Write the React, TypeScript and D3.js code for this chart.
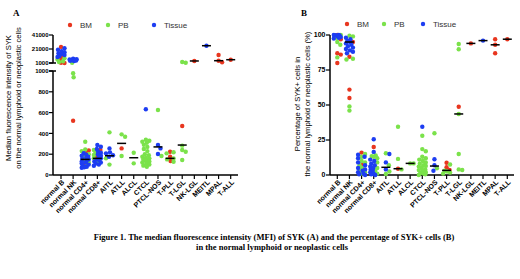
import React from 'react';
import * as d3 from 'd3';

const categories = ['normal B', 'normal NK', 'normal CD4+', 'normal CD8+', 'AITL', 'ATLL', 'ALCL', 'CTCL', 'PTCL-NOS', 'T-PLL', 'T-LGL', 'NK-LGL', 'MEITL', 'MPAL', 'T-ALL'];
const groups = ['BM', 'PB', 'Tissue'];
const groupColors = ['#e8361f', '#7be24b', '#1d3df2'];

// Panel A: MFI of SYK
const mfiBM: number[][] = [
  [24000, 10000, 6300, 1400, 1100], [522], [235, 220, 110, 100], [240, 176], [], [256], [], [], [],
  [224, 176, 135], [471], [3900], [], [12400, 4300, 2000], [5700],
];
const mfiPB: number[][] = [
  [7700, 6000, 3500, 2500], [1400, 978, 940], [320, 245, 230, 200, 180, 140, 120, 110],
  [240, 220, 192, 160, 128], [410, 160, 100], [391, 368, 183], [214, 112],
  [340, 330, 320, 310, 290, 270, 250, 230, 200, 190, 175, 165, 160, 150, 145, 140, 130, 120, 110, 100, 90, 80],
  [625, 183], [219, 208, 160, 150, 128], [2400, 1400, 282, 240, 224, 144], [], [], [], [],
];
const mfiTissue: number[][] = [
  [22000, 20000, 18000, 16500, 15000, 14000, 12500, 11000, 9500],
  [7000, 6500, 6000, 5600, 5300, 5000, 4600, 4200, 3800],
  [210, 195, 185, 175, 165, 155, 150, 140, 130, 120, 110, 100, 90, 80, 75, 70],
  [288, 272, 250, 230, 215, 200, 185, 170, 160, 150, 140, 130, 120, 110, 100, 89],
  [256, 218, 208, 190, 176], [], [], [632], [288, 256, 202], [], [], [], [25700], [], [],
];
const mfiMedian: (number | null)[] = [null, null, 150, 160, 185, 304, 166, null, 270, 160, 288, 3900, 25700, 4300, 5700];
const mfiUpperTicks = [1000, 21000, 41000];
const mfiLowerTicks = [0, 200, 400, 600, 800, 1000];

// Panel B: percentage of SYK+ cells
const pctBM: number[][] = [
  [100, 97, 87, 86, 80], [95, 84.5, 61, 55], [16, 8], [20], [], [4.5], [], [], [],
  [8.8, 5.5, 3.6], [48.8], [94], [], [97, 93, 87], [97],
];
const pctPB: number[][] = [
  [100, 99, 98, 95, 93, 84], [99.5, 99, 83, 82.5, 49, 46], [15, 13, 10, 9, 7, 5, 3, 2, 1],
  [14, 13.5, 13, 12, 9, 5, 3, 1], [15.5, 7, 2.5, 0.7], [34.5, 11.5, 4], [8.3, 8.3],
  [28, 18.5, 17, 13, 12, 11, 10, 9, 8, 7, 6.5, 6, 5, 4, 3.5, 3, 2, 1.5, 1, 0.5, 0],
  [29.8, 4.8], [7.5, 3, 2.5, 1.7, 1], [93.6, 89.8, 43.6, 15, 4, 3.6], [], [], [], [],
];
const pctTissue: number[][] = [
  [100, 100, 99.8, 99.5, 99, 98.5, 98, 97.5],
  [98, 97, 96, 95, 94, 93, 92, 91, 90, 89, 88, 87],
  [14.5, 13, 12, 9, 7, 5, 4, 3, 2, 1, 0.5, 0],
  [25.5, 16.5, 11, 10, 8, 7, 6, 5, 4, 3, 2, 1, 0.5, 0],
  [15, 9, 4], [], [], [34.5], [11.2, 7, 3], [], [], [], [96], [], [],
];
const pctMedian: (number | null)[] = [null, 95, null, null, 5.5, 4.5, 8.3, null, 6.4, 3.3, 43.6, 94, 96, 93, 97];
const pctTicks = [0, 25, 50, 75, 100];

const SANS = '"Liberation Sans", Arial, sans-serif';
const SERIF = '"Liberation Serif", "Times New Roman", serif';
const R = 2.2;

function swarm(ys: number[], r: number, maxW: number): number[] {
  const idx = ys.map((_, i) => i).sort((a, b) => ys[a] - ys[b]);
  const placed: { x: number; y: number }[] = [];
  const out = new Array(ys.length).fill(0);
  const cands: number[] = [0];
  for (let s = 0.5; s <= maxW; s += 0.5) cands.push(s, -s);
  const need = 2 * r * 0.9;
  for (const i of idx) {
    const y = ys[i];
    let best = 0;
    let bestD = -1;
    for (const c of cands) {
      let md = Infinity;
      for (const p of placed) {
        const d = Math.hypot(c - p.x, y - p.y);
        if (d < md) md = d;
      }
      if (md >= need) { best = c; break; }
      if (md > bestD) { bestD = md; best = c; }
    }
    placed.push({ x: best, y });
    out[i] = best;
  }
  return out;
}

type Pt = { cat: number; g: number; x: number; y: number };

function buildPoints(series: number[][][], x: d3.ScalePoint<string>, yFn: (v: number) => number, maxW: number): Pt[] {
  const pts: Pt[] = [];
  categories.forEach((c, ci) => {
    const local: { g: number; y: number }[] = [];
    series.forEach((arr, g) => arr[ci].forEach((v) => local.push({ g, y: yFn(v) })));
    const dx = swarm(local.map((p) => p.y), R, maxW);
    local.forEach((p, k) => pts.push({ cat: ci, g: p.g, x: (x(c) as number) + dx[k], y: p.y }));
  });
  return pts.sort((a, b) => a.g - b.g);
}

function CatAxis({ x, y0, x0, x1 }: { x: d3.ScalePoint<string>; y0: number; x0: number; x1: number }) {
  return (
    <g>
      <line x1={x0} x2={x1} y1={y0} y2={y0} stroke="#000" strokeWidth={1.5} />
      {categories.map((c) => (
        <g key={c}>
          <line x1={x(c)} x2={x(c)} y1={y0} y2={y0 + 4} stroke="#000" strokeWidth={1.2} />
          <text
            transform={`translate(${(x(c) as number) + 2},${y0 + 6}) rotate(-45)`}
            textAnchor="end"
            dy="0.35em"
            fontFamily={SANS}
            fontWeight="bold"
            fontSize={7}
          >
            {c}
          </text>
        </g>
      ))}
    </g>
  );
}

function Legend({ xs, y }: { xs: number[]; y: number }) {
  return (
    <g>
      {groups.map((g, i) => (
        <g key={g}>
          <circle cx={xs[i]} cy={y} r={R} fill={groupColors[i]} />
          <text x={xs[i] + 10} y={y + 3} fontFamily={SANS} fontSize={8} fill="#333">{g}</text>
        </g>
      ))}
    </g>
  );
}

function Dots({ pts }: { pts: Pt[] }) {
  return (
    <g>
      {pts.map((p, i) => (
        <circle key={i} cx={p.x} cy={p.y} r={R} fill={groupColors[p.g]} />
      ))}
    </g>
  );
}

function Medians({ meds, x, yFn }: { meds: (number | null)[]; x: d3.ScalePoint<string>; yFn: (v: number) => number }) {
  return (
    <g>
      {meds.map((m, i) =>
        m == null ? null : (
          <line key={i} x1={(x(categories[i]) as number) - 4.5} x2={(x(categories[i]) as number) + 4.5}
            y1={yFn(m)} y2={yFn(m)} stroke="#000" strokeWidth={1.5} />
        )
      )}
    </g>
  );
}

export default function App() {
  // Panel A scales
  const axA = 53;
  const xA = d3.scalePoint<string>().domain(categories).range([61, 230.7]);
  const yAlow = d3.scaleLinear().domain([0, 1000]).range([175, 71]);
  const yAup = d3.scaleLinear().domain([1000, 41000]).range([63, 35]);
  const yA = (v: number) => (v > 1000 ? yAup(v) : yAlow(v));
  const ptsA = buildPoints([mfiBM, mfiPB, mfiTissue], xA, yA, 3.5);

  // Panel B scales
  const axB = 330;
  const xB = d3.scalePoint<string>().domain(categories).range([337.3, 507.3]);
  const yB = d3.scaleLinear().domain([0, 100]).range([175, 35]);
  const yBf = (v: number) => yB(v);
  const ptsB = buildPoints([pctBM, pctPB, pctTissue], xB, yBf, 3.5);

  return (
    <svg width={520} height={279} style={{ position: 'absolute', left: 0, top: 0, background: '#fff' }}>
      <rect width={520} height={279} fill="#fff" />
      {/* Panel A */}
      <text x={13} y={16} fontFamily={SERIF} fontWeight="bold" fontSize={9}>A</text>
      <Legend xs={[70, 108, 154]} y={25} />
      <g fontFamily={SANS} fontSize={7.6}>
        <text transform="translate(10.5,98) rotate(-90)" textAnchor="middle">Median fluorescence intensity of SYK</text>
        <text transform="translate(20.5,98) rotate(-90)" textAnchor="middle">on the normal lymphoid or neoplastic cells</text>
      </g>
      <line x1={axA} x2={axA} y1={yAup(41000)} y2={yAup(1000)} stroke="#000" strokeWidth={1.5} />
      <line x1={axA} x2={axA} y1={yAlow(1000)} y2={yAlow(0)} stroke="#000" strokeWidth={1.5} />
      <line x1={axA - 4} x2={axA + 3} y1={yAup(1000)} y2={yAup(1000)} stroke="#000" strokeWidth={1.5} />
      <line x1={axA - 4} x2={axA + 3} y1={yAlow(1000)} y2={yAlow(1000)} stroke="#000" strokeWidth={1.5} />
      {mfiUpperTicks.map((t) => (
        <g key={'u' + t}>
          <line x1={axA - 4} x2={axA} y1={yAup(t)} y2={yAup(t)} stroke="#000" strokeWidth={1.2} />
          <text x={axA - 4.5} y={yAup(t)} dy="0.35em" textAnchor="end" fontFamily={SANS} fontWeight="bold" fontSize={6}>{t}</text>
        </g>
      ))}
      {mfiLowerTicks.map((t) => (
        <g key={'l' + t}>
          <line x1={axA - 4} x2={axA} y1={yAlow(t)} y2={yAlow(t)} stroke="#000" strokeWidth={1.2} />
          <text x={axA - 4.5} y={yAlow(t)} dy="0.35em" textAnchor="end" fontFamily={SANS} fontWeight="bold" fontSize={6}>{t}</text>
        </g>
      ))}
      <CatAxis x={xA} y0={175} x0={axA} x1={238} />
      <Dots pts={ptsA} />
      <Medians meds={mfiMedian} x={xA} yFn={yA} />

      {/* Panel B */}
      <text x={301} y={16} fontFamily={SERIF} fontWeight="bold" fontSize={9}>B</text>
      <Legend xs={[347, 384, 423]} y={24} />
      <g fontFamily={SANS} fontSize={7.6}>
        <text transform="translate(299.5,104) rotate(-90)" textAnchor="middle">Percentage of SYK+ cells in</text>
        <text transform="translate(309.5,104) rotate(-90)" textAnchor="middle">the normal lymphoid or neoplastic cells (%)</text>
      </g>
      <line x1={axB} x2={axB} y1={yB(100)} y2={yB(0)} stroke="#000" strokeWidth={1.5} />
      {pctTicks.map((t) => (
        <g key={'b' + t}>
          <line x1={axB - 4} x2={axB} y1={yB(t)} y2={yB(t)} stroke="#000" strokeWidth={1.2} />
          <text x={axB - 4.5} y={yB(t)} dy="0.35em" textAnchor="end" fontFamily={SANS} fontWeight="bold" fontSize={7}>{t}</text>
        </g>
      ))}
      <CatAxis x={xB} y0={175} x0={axB} x1={514} />
      <Dots pts={ptsB} />
      <Medians meds={pctMedian} x={xB} yFn={yBf} />

      {/* Caption */}
      <g fontFamily={SERIF} fontWeight="bold" fontSize={8.5} textAnchor="middle">
        <text x={274} y={240}>Figure 1. The median fluorescence intensity (MFI) of SYK (A) and the percentage of SYK+ cells (B)</text>
        <text x={272} y={250}>in the normal lymphoid or neoplastic cells</text>
      </g>
    </svg>
  );
}
